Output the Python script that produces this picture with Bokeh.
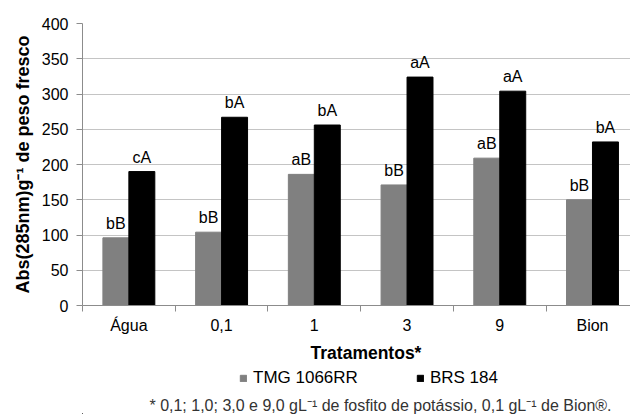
from bokeh.plotting import figure
from bokeh.models import (ColumnDataSource, LabelSet, Label, FixedTicker, Legend,
                          LegendItem, Range1d)
from bokeh.layouts import column
from bokeh.core.properties import value
from bokeh.embed import file_html
from bokeh.resources import INLINE

categories = ["Água", "0,1", "1", "3", "9", "Bion"]
tmg_values = [96, 104, 186, 171, 209, 150]
brs_values = [190, 267, 256, 324, 304, 232]
tmg_letters = ["bB", "bB", "aB", "bB", "aB", "bB"]
brs_letters = ["cA", "bA", "bA", "aA", "aA", "bA"]
y_ticks = [0, 50, 100, 150, 200, 250, 300, 350, 400]
series_names = ["TMG 1066RR", "BRS 184"]
x_title = "Tratamentos*"
y_title = "Abs(285nm)g⁻¹ de peso fresco"
footnote = "* 0,1; 1,0; 3,0 e 9,0 gL⁻¹ de fosfito de potássio, 0,1 gL⁻¹ de Bion®."

FONT = "Liberation Sans"
GRAY = "#808080"
BLACK = "#000000"
AXIS = "#8c8c8c"

centers = [i + 0.5 for i in range(len(categories))]
off = 0.14
bw = 0.28

p = figure(width=630, height=337, output_backend="svg", toolbar_location=None,
           x_range=Range1d(0, 5.91), y_range=Range1d(0, 400),
           min_border_left=82, min_border_right=0, min_border_top=23,
           min_border_bottom=32)
p.outline_line_color = None
p.background_fill_color = "white"
p.border_fill_color = "white"

src_tmg = ColumnDataSource(dict(x=[c - off for c in centers], y=tmg_values, t=tmg_letters))
src_brs = ColumnDataSource(dict(x=[c + off for c in centers], y=brs_values, t=brs_letters))

p.vbar(x="x", top="y", width=bw, source=src_tmg, fill_color=GRAY, line_color=GRAY)
p.vbar(x="x", top="y", width=bw, source=src_brs, fill_color=BLACK, line_color=BLACK)

for src in (src_tmg, src_brs):
    p.add_layout(LabelSet(x="x", y="y", text="t", source=src, text_align="center",
                          text_baseline="bottom", y_offset=6, text_font=value(FONT),
                          text_font_size="16px", text_color="black"))

# x axis
p.xaxis.ticker = FixedTicker(ticks=centers, minor_ticks=list(range(0, 7)))
p.xaxis.major_label_overrides = {c: lab for c, lab in zip(centers, categories)}
p.xaxis.major_tick_line_color = None
p.xaxis.major_tick_out = 6
p.xaxis.minor_tick_line_color = AXIS
p.xaxis.minor_tick_out = 6
p.xaxis.minor_tick_in = 0
p.xaxis.axis_line_color = AXIS
p.xaxis.major_label_standoff = 5
p.xaxis.major_label_text_font = FONT
p.xaxis.major_label_text_font_size = "16px"
p.xaxis.major_label_text_color = "black"
p.xgrid.grid_line_color = None

# y axis
p.yaxis.ticker = FixedTicker(ticks=y_ticks)
p.yaxis.minor_tick_line_color = None
p.yaxis.major_tick_line_color = AXIS
p.yaxis.major_tick_out = 6
p.yaxis.major_tick_in = 0
p.yaxis.axis_line_color = AXIS
p.yaxis.major_label_standoff = 8
p.yaxis.major_label_text_font = FONT
p.yaxis.major_label_text_font_size = "16px"
p.yaxis.major_label_text_color = "black"
p.yaxis.axis_label = y_title
p.yaxis.axis_label_text_font = FONT
p.yaxis.axis_label_text_font_style = "bold"
p.yaxis.axis_label_text_font_size = "18px"
p.yaxis.axis_label_text_color = "black"
p.yaxis.axis_label_standoff = 6
p.ygrid.grid_line_color = "#c4c4c4"
p.ygrid.grid_line_width = 1

# lower panel: x title, legend and footnote (frame aligned with the main plot)
p2 = figure(width=630, height=77, output_backend="svg", toolbar_location=None,
            x_range=Range1d(0, 548), y_range=Range1d(0, 77),
            min_border_left=0, min_border_right=0, min_border_top=0,
            min_border_bottom=0)
p2.axis.visible = False
p2.grid.grid_line_color = None
p2.outline_line_color = None
p2.background_fill_color = "white"
p2.border_fill_color = "white"

# legend swatches: renderers kept outside the visible range
key_src = ColumnDataSource(dict(x=[-1000], y=[1]))
g1 = p2.vbar(x="x", top="y", width=1, source=key_src, fill_color=GRAY, line_color=GRAY)
g2 = p2.vbar(x="x", top="y", width=1, source=key_src, fill_color=BLACK, line_color=BLACK)

legend = Legend(items=[LegendItem(label=series_names[0], renderers=[g1]),
                       LegendItem(label=series_names[1], renderers=[g2])],
                orientation="horizontal", location=(157, 26),
                glyph_width=8, glyph_height=8, label_standoff=6, spacing=58,
                padding=0, margin=0, border_line_color=None,
                background_fill_alpha=0,
                label_text_font=FONT, label_text_font_size="17px",
                label_text_color="black", label_height=17)
p2.add_layout(legend, "center")

p2.add_layout(Label(x=283.5, y=62, text=x_title, text_align="center",
                    text_baseline="middle", text_font=FONT, text_font_style="bold",
                    text_font_size="17.5px", text_color="black"))
p2.add_layout(Label(x=298, y=9, text=footnote, text_align="center",
                    text_baseline="middle", text_font=FONT,
                    text_font_size="16px", text_color="#333333"))

open("out.html", "w").write(file_html(column(p, p2, spacing=0), INLINE))
